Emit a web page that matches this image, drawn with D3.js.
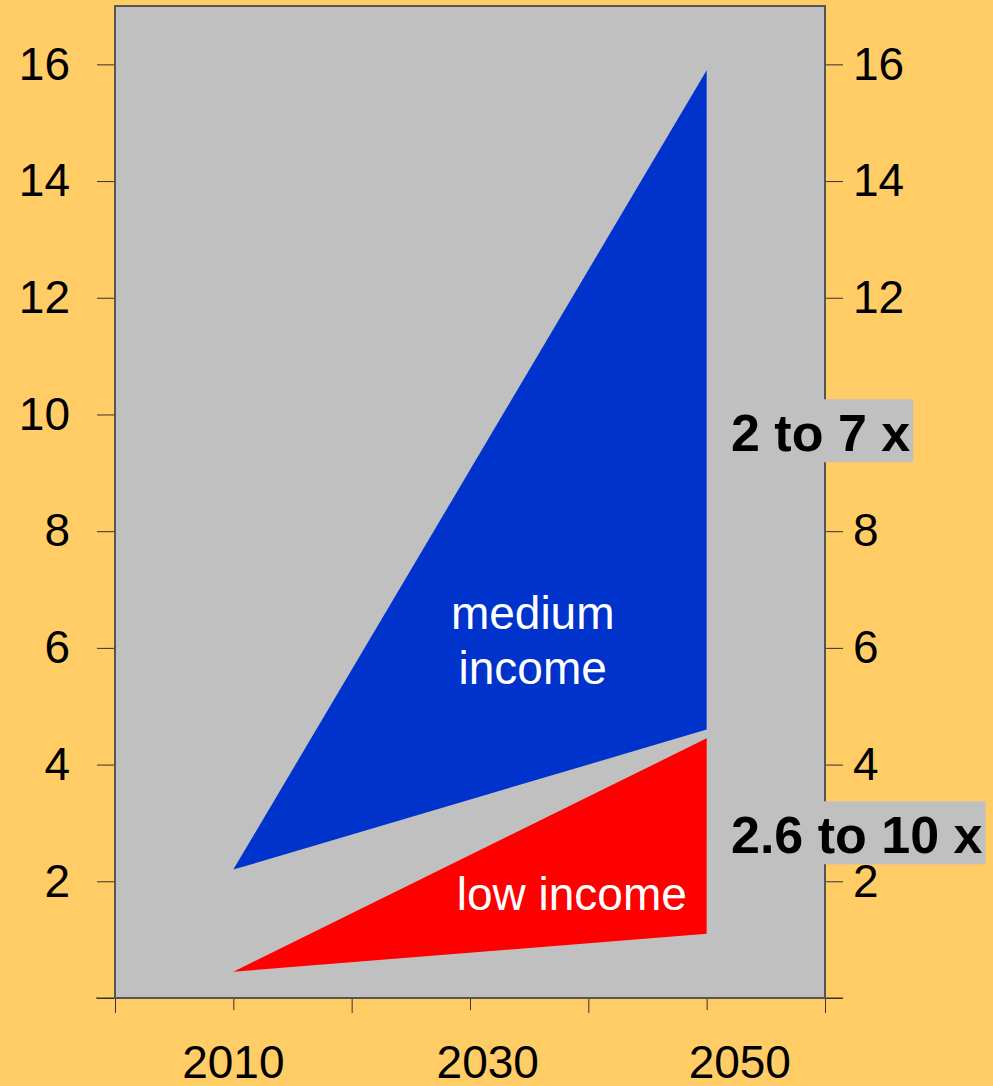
<!DOCTYPE html>
<html>
<head>
<meta charset="utf-8">
<script src="https://cdn.jsdelivr.net/npm/d3@7"></script>
<style>
  body { margin: 0; background: #FFCC66; }
  svg { display: block; font-family: "Liberation Sans", Arial, Helvetica, sans-serif; }
</style>
</head>
<body>
<script>
  // data
  var years = [2010, 2050];
  var mediumLow = [2.2, 4.6];
  var mediumHigh = [2.2, 15.9];
  var lowLow = [0.45, 1.1];
  var lowHigh = [0.45, 4.45];

  var yTicks = [0, 2, 4, 6, 8, 10, 12, 14, 16];
  var xTicks = [2000, 2010, 2020, 2030, 2040, 2050, 2060];
  var xLabels = ["2010", "2030", "2050"];
  var xLabelAt = [2010, 2031.5, 2052.8];

  var width = 993,
      height = 1086;

  var svg = d3.select("body").append("svg")
      .attr("width", width)
      .attr("height", height);

  svg.append("rect")
      .attr("width", width)
      .attr("height", height)
      .attr("fill", "#FFCC66");

  var x = d3.scaleLinear().domain([2000, 2060]).range([115, 825]);
  var y = d3.scaleLinear().domain([0, 17]).range([998, 6]);

  // plot panel
  svg.append("rect")
      .attr("x", x(2000))
      .attr("y", y(17))
      .attr("width", x(2060) - x(2000))
      .attr("height", y(0) - y(17))
      .attr("fill", "#C0C0C0");

  // the two wedges
  var area = d3.area()
      .x(function(d) { return x(d.year); })
      .y0(function(d) { return y(d.lo); })
      .y1(function(d) { return y(d.hi); });

  function rows(lo, hi) {
    return years.map(function(yr, i) { return { year: yr, lo: lo[i], hi: hi[i] }; });
  }

  svg.append("path")
      .datum(rows(mediumLow, mediumHigh))
      .attr("d", area)
      .attr("fill", "#0033CC");

  svg.append("path")
      .datum(rows(lowLow, lowHigh))
      .attr("d", area)
      .attr("fill", "#FF0000");

  // labels inside the wedges
  svg.append("text")
      .attr("x", x(2035.3))
      .attr("text-anchor", "middle")
      .attr("fill", "white")
      .attr("font-size", 46)
      .selectAll("tspan")
      .data(["medium", "income"])
      .enter().append("tspan")
      .attr("x", x(2035.3))
      .attr("y", function(d, i) { return y(6.33) + i * 55; })
      .text(function(d) { return d; });

  svg.append("text")
      .attr("x", x(2038.6))
      .attr("y", y(1.5))
      .attr("text-anchor", "middle")
      .attr("fill", "white")
      .attr("font-size", 46)
      .text("low income");

  // axes
  var left = svg.append("g")
      .attr("transform", "translate(" + x(2000) + ",0)")
      .call(d3.axisLeft(y).tickValues(yTicks).tickSize(18).tickPadding(27)
        .tickFormat(function(d) { return d === 0 ? "" : d; }));

  // the "10" on the right sits under the ratio note, so it is left out
  var right = svg.append("g")
      .attr("transform", "translate(" + x(2060) + ",0)")
      .call(d3.axisRight(y).tickValues(yTicks).tickSize(18).tickPadding(10)
        .tickFormat(function(d) { return (d === 0 || d === 10) ? "" : d; }));

  var bottom = svg.append("g")
      .attr("transform", "translate(0," + y(0) + ")")
      .call(d3.axisBottom(x).tickValues(xTicks).tickFormat(""));

  bottom.selectAll(".tick line")
      .attr("y2", function(d) { return (d - 2000) % 20 === 0 ? 15 : 12; });

  [left, right, bottom].forEach(function(g) {
    g.select(".domain").remove();
    g.selectAll(".tick line").attr("stroke", "#333").attr("stroke-width", 1);
    g.selectAll(".tick text")
      .attr("font-size", 46)
      .attr("fill", "black")
      .attr("font-family", "Liberation Sans, Arial, sans-serif");
  });

  bottom.append("line")
      .attr("x1", 96).attr("x2", 843)
      .attr("stroke", "#333").attr("stroke-width", 1);

  svg.selectAll(".xlab")
      .data(xLabels)
      .enter().append("text")
      .attr("class", "xlab")
      .attr("x", function(d, i) { return x(xLabelAt[i]); })
      .attr("y", 1078)
      .attr("text-anchor", "middle")
      .attr("font-size", 46)
      .text(function(d) { return d; });

  // panel frame
  svg.append("rect")
      .attr("x", x(2000))
      .attr("y", y(17))
      .attr("width", x(2060) - x(2000))
      .attr("height", y(0) - y(17))
      .attr("fill", "none")
      .attr("stroke", "#555")
      .attr("stroke-width", 2);

  // ratio notes on the right
  var notes = [
    { text: "2 to 7 x", at: 9.37 },
    { text: "2.6 to 10 x", at: 2.48 }
  ];

  notes.forEach(function(n) {
    var g = svg.append("g");
    var t = g.append("text")
        .attr("x", 731)
        .attr("y", y(n.at))
        .attr("font-size", 52)
        .attr("font-weight", "bold")
        .attr("fill", "black")
        .text(n.text);
    var b = t.node().getBBox();
    g.insert("rect", "text")
        .attr("x", 726)
        .attr("y", y(n.at) - 52)
        .attr("width", b.x + b.width + 3 - 726)
        .attr("height", 63)
        .attr("fill", "#C0C0C0");
  });
</script>
</body>
</html>
